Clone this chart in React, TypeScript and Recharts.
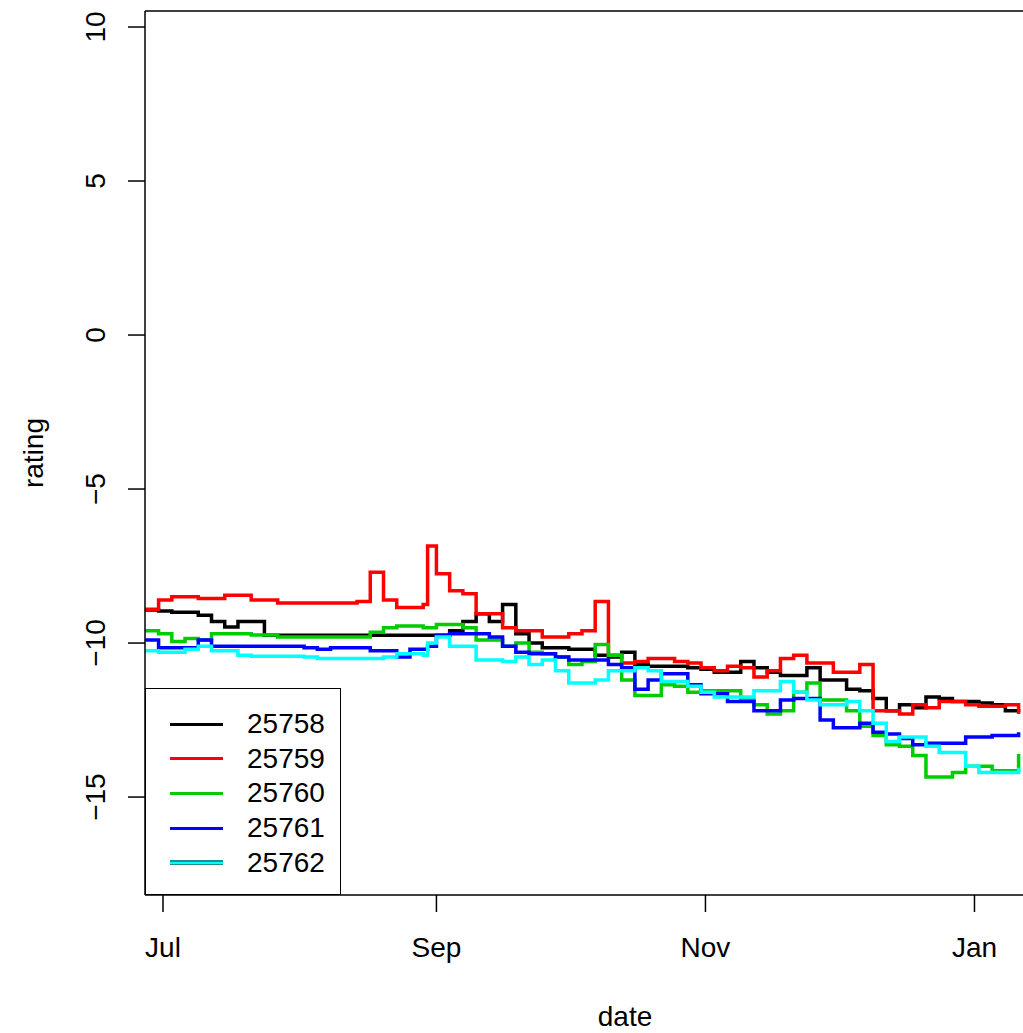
import React from "react";
import { LineChart, Line, XAxis, YAxis, Legend, ReferenceLine } from "recharts";

// days counted from 1 July
const days = [
  -4, -1, 2, 5, 8, 11, 14, 17, 20, 23, 26, 29, 32, 35, 38, 41, 44, 47, 50, 53, 56, 59, 60,
  62, 65, 68, 71, 74, 77, 80, 83, 86, 89, 92, 95, 98, 101, 104, 107, 110, 113, 116, 119,
  122, 125, 128, 131, 134, 137, 140, 143, 146, 149, 152, 155, 158, 161, 164, 167, 170,
  173, 176, 179, 182, 185, 188, 191, 194,
];

const r25758 = [
  -8.93, -8.96, -9.0, -9.0, -9.1, -9.3, -9.48, -9.3, -9.3, -9.75, -9.75, -9.75, -9.75,
  -9.75, -9.75, -9.75, -9.75, -9.75, -9.75, -9.75, -9.75, -9.75, -9.75,
  -9.75, -9.6, -9.3, -9.05, -9.3, -8.75, -9.7, -10.0, -10.15, -10.15, -10.2, -10.2, -10.4,
  -10.45, -10.3, -10.7, -10.75, -10.75, -10.75, -10.8, -10.85, -10.95, -10.95, -10.6,
  -10.8, -10.95, -11.05, -11.05, -10.8, -11.2, -11.2, -11.5, -11.55, -11.8, -12.2, -12.0,
  -12.1, -11.75, -11.8, -11.9, -11.9, -11.95, -12.0, -12.2, -12.25,
];

const r25759 = [
  -8.9, -8.6, -8.5, -8.5, -8.55, -8.55, -8.45, -8.45, -8.6, -8.6, -8.7, -8.7, -8.7, -8.7,
  -8.7, -8.7, -8.65, -7.7, -8.6, -8.85, -8.85, -8.75, -6.85,
  -7.75, -8.3, -8.4, -9.05, -9.05, -9.5, -9.6, -9.6, -9.8, -9.8, -9.7, -9.6, -8.65, -10.4,
  -10.65, -10.6, -10.5, -10.5, -10.6, -10.65, -10.8, -10.9, -10.75, -10.8, -11.1, -10.9,
  -10.5, -10.4, -10.65, -10.65, -10.95, -10.95, -10.7, -12.2, -12.2, -12.3, -12.0, -12.1,
  -11.9, -11.9, -12.0, -12.05, -12.05, -12.0, -12.3,
];

const r25760 = [
  -9.6, -9.7, -9.95, -9.85, -9.9, -9.7, -9.7, -9.7, -9.74, -9.74, -9.8, -9.8, -9.8, -9.8,
  -9.8, -9.8, -9.8, -9.65, -9.5, -9.45, -9.45, -9.5, -9.5,
  -9.4, -9.4, -9.5, -9.9, -9.9, -10.1, -10.0, -10.3, -10.35, -10.45, -10.7, -10.6, -10.05,
  -10.4, -11.2, -11.7, -11.7, -11.35, -11.4, -11.6, -11.55, -11.55, -11.55, -11.8, -12.0,
  -12.3, -12.2, -11.6, -11.3, -11.85, -11.85, -12.2, -12.7, -13.0, -13.3, -13.35, -13.65,
  -14.35, -14.35, -14.2, -14.0, -14.0, -14.15, -14.15, -13.6,
];

const r25761 = [
  -9.9, -10.15, -10.15, -10.15, -9.9, -10.1, -10.1, -10.1, -10.1, -10.1, -10.1, -10.1,
  -10.15, -10.2, -10.15, -10.15, -10.15, -10.25, -10.25, -10.45, -10.2, -10.2, -10.1,
  -9.75, -9.7, -9.7, -9.7, -9.8, -10.1, -10.3, -10.35, -10.35, -10.45, -10.55, -10.55,
  -10.55, -10.7, -10.8, -11.5, -11.2, -11.0, -11.0, -11.35, -11.65, -11.65, -11.9, -11.9,
  -12.2, -12.2, -11.85, -11.8, -11.8, -12.5, -12.75, -12.75, -12.6, -12.9, -12.95, -13.1,
  -13.3, -13.25, -13.25, -13.25, -13.05, -13.05, -13.0, -13.0, -12.9,
];

const r25762 = [
  -10.25, -10.3, -10.3, -10.2, -10.1, -10.25, -10.25, -10.4, -10.43, -10.43, -10.43,
  -10.43, -10.45, -10.5, -10.5, -10.5, -10.5, -10.5, -10.45, -10.35, -10.35, -10.4, -10.0,
  -9.8, -10.1, -10.1, -10.55, -10.55, -10.6, -10.45, -10.7, -10.55, -10.9, -11.3, -11.3,
  -11.2, -10.9, -10.9, -10.8, -10.9, -11.25, -11.25, -11.4, -11.6, -11.75, -11.75, -11.75,
  -11.55, -11.55, -11.25, -11.6, -11.85, -12.0, -12.0, -11.9, -12.2, -12.6, -13.2, -13.05,
  -13.05, -13.35, -13.55, -13.55, -14.0, -14.2, -14.2, -14.2, -14.05,
];

const seriesNames = ["25758", "25759", "25760", "25761", "25762"];
const seriesValues = [r25758, r25759, r25760, r25761, r25762];
const seriesColors = ["#000000", "#ff0000", "#00cd00", "#0000ff", "#00ffff"];

const xTicks = [0, 62, 123, 184];
const xTickLabels = ["Jul", "Sep", "Nov", "Jan"];
const yTicks = [10, 5, 0, -5, -10, -15];
const yTop = 10.52;

const data = days.map((d, i) => {
  const row: Record<string, number> = { day: d };
  seriesNames.forEach((name, k) => {
    row[name] = seriesValues[k][i];
  });
  return row;
});

const FONT = "'Liberation Sans', Arial, Helvetica, sans-serif";

const fmtY = (v: number) => (v < 0 ? `\u2212${Math.abs(v)}` : `${v}`);

const YTick = ({ x, y, payload }: any) => (
  <text
    x={x - 23}
    y={y}
    transform={`rotate(-90, ${x - 23}, ${y})`}
    textAnchor="middle"
    fontSize={28}
    fontFamily={FONT}
    fill="#000"
  >
    {fmtY(payload.value)}
  </text>
);

const XTick = ({ x, y, payload }: any) => (
  <text x={x} y={y + 45} textAnchor="middle" fontSize={28} fontFamily={FONT} fill="#000">
    {xTickLabels[xTicks.indexOf(payload.value)]}
  </text>
);

const DateLabel = ({ viewBox }: any) => (
  <text
    x={viewBox.x + viewBox.width / 2 + 41}
    y={1026}
    textAnchor="middle"
    fontSize={28}
    fontFamily={FONT}
    fill="#000"
  >
    date
  </text>
);

const RatingLabel = ({ viewBox }: any) => {
  const cy = viewBox.y + viewBox.height / 2;
  return (
    <text
      x={43}
      y={cy}
      transform={`rotate(-90, 43, ${cy})`}
      textAnchor="middle"
      fontSize={28}
      fontFamily={FONT}
      fill="#000"
    >
      rating
    </text>
  );
};

const LegendBox = ({ payload }: any) => (
  <div
    style={{
      width: 196,
      height: 207,
      boxSizing: "border-box",
      border: "1.5px solid #000",
      background: "#fff",
      position: "relative",
      fontFamily: FONT,
      fontSize: 28,
      color: "#000",
    }}
  >
    {(payload || []).map((p: any, i: number) => {
      const top = 35 + i * 34.7;
      const isCyan = p.color === "#00ffff";
      return (
        <React.Fragment key={p.value}>
          <div
            style={{
              position: "absolute",
              left: 24,
              top: top - (isCyan ? 2.5 : 1.5),
              width: 53,
              height: isCyan ? 5 : 3,
              background: isCyan ? "#1f8f8f" : p.color,
            }}
          />
          {isCyan && (
            <div
              style={{
                position: "absolute",
                left: 24,
                top: top - 1,
                width: 53,
                height: 2,
                background: "#00ffff",
              }}
            />
          )}
          <div style={{ position: "absolute", left: 101, top: top - 17, lineHeight: "34px" }}>
            {p.value}
          </div>
        </React.Fragment>
      );
    })}
  </div>
);

export default function App() {
  return (
    <div
      style={{
        position: "absolute",
        left: 0,
        top: 0,
        width: 1023,
        height: 1033,
        overflow: "hidden",
        background: "#fff",
      }}
    >
      <LineChart
        width={1023}
        height={1033}
        data={data}
        margin={{ top: 11, right: 0, bottom: 78, left: 85 }}
      >
        <XAxis
          dataKey="day"
          type="number"
          domain={[-4.08, 195]}
          allowDataOverflow
          ticks={xTicks}
          tick={<XTick />}
          tickSize={17}
          tickMargin={0}
          tickLine={{ stroke: "#000", strokeWidth: 1.5 }}
          axisLine={{ stroke: "#000", strokeWidth: 1.5 }}
          height={60}
          label={<DateLabel />}
        />
        <YAxis
          type="number"
          domain={[-18.18, yTop]}
          allowDataOverflow
          ticks={yTicks}
          tick={<YTick />}
          tickSize={17}
          tickMargin={0}
          tickLine={{ stroke: "#000", strokeWidth: 1.5 }}
          axisLine={{ stroke: "#000", strokeWidth: 1.5 }}
          width={60}
          label={<RatingLabel />}
        />
        <ReferenceLine y={yTop} stroke="#000" strokeWidth={1.5} ifOverflow="visible" />
        {seriesNames.map((name, k) => (
          <Line
            key={name}
            dataKey={name}
            name={name}
            type="stepAfter"
            stroke={seriesColors[k]}
            strokeWidth={3.5}
            dot={false}
            activeDot={false}
            isAnimationActive={false}
          />
        ))}
        <Legend
          layout="horizontal"
          align="center"
          verticalAlign="middle"
          content={<LegendBox />}
          wrapperStyle={{ left: 145, top: 688, width: 196, height: 207 }}
        />
      </LineChart>
    </div>
  );
}
